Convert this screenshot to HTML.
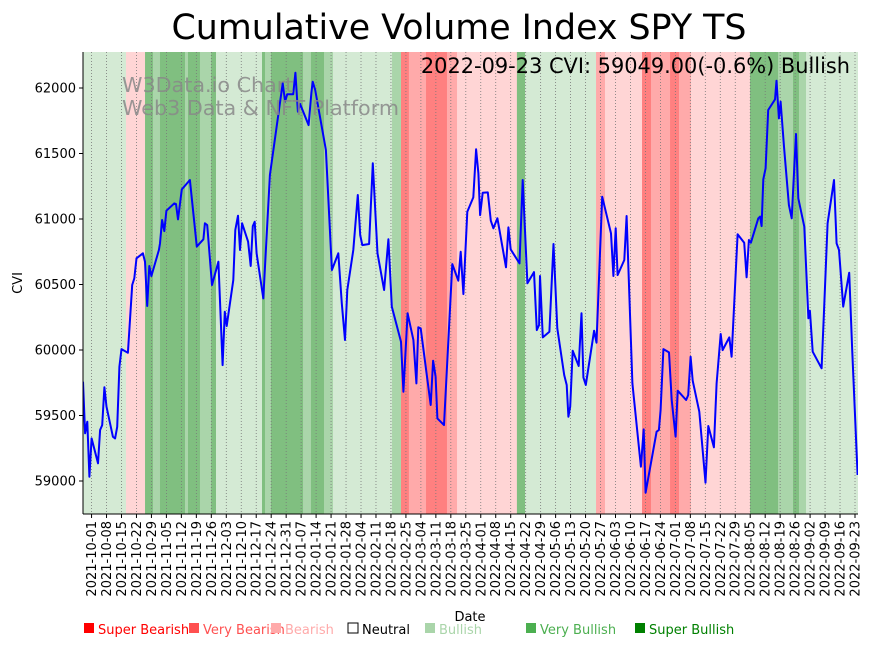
<!DOCTYPE html>
<html><head><meta charset="utf-8"><style>
body{margin:0;background:#fff;font-family:"DejaVu Sans","Liberation Sans",sans-serif;}
svg text{font-family:"DejaVu Sans","Liberation Sans",sans-serif;}
</style></head><body>
<svg id="c" width="875" height="646" xmlns="http://www.w3.org/2000/svg"></svg>
<script>
const cviDays=[0,1,2,3,4,7,8,9,10,11,14,15,16,17,18,21,23,24,25,28,29,30,31,32,35.5,36,37,38,39,42.7,43.5,44.4,46.2,50,53.2,56.3,57,58.1,60.3,63.3,65.3,66.3,67.2,70.3,71.2,72.5,73.4,74.4,77.2,78.4,79.4,80.3,81.2,84.3,87.4,93.4,94.5,95.5,98.3,99.3,100.5,101.5,105.5,106.8,107.4,108.6,113.6,116.4,119.4,121,
122.5,123.6,126.4,128.5,129.6,130.6,133.8,135.5,137.7,140.8,142.8,144.4,148.7,149.8,151.8,154.5,155.9,156.8,157.9,162.6,163.7,164.9,165.7,168.8,172.7,175.5,176.6,177.9,179.7,182.5,183.8,184.9,185.7,186.9,189.3,190.7,191.9,193.8,197.8,198.9,200,204.1,205.6,207.8,210.9,212.2,213.3,213.7,215,218.1,220,221.8,225,226.2,227,227.8,229,231.8,233.1,234,235.1,239,240.1,
242.8,246.9,248,249.1,250,253.1,254.2,256.9,260.9,262.2,263.1,268.2,269.3,270.1,271.4,274,275.3,277.1,278.1,282,283,284.1,285.1,288.2,291.1,292.4,295,296.3,298.2,299.1,302.2,303.3,306.1,309.2,310.3,311.4,312.3,315.8,316.6,317.3,318.1,319.2,320.4,323.6,324.3,325.4,326.2,327.8,330.1,331.4,333.4,334.5,337.3,339.2,339.9,341.2,345.4,346.6,348.2,351.2,352.4,353.5,355.5,358.3,359.7,362.2];
const cviValues=[59758,59364,59453,59033,59325,59135,59389,59427,59715,59567,59338,59325,59414,59872,60007,59979,60496,60547,60700,60738,60674,60336,60641,60565,60763,60814,60992,60908,61063,61119,61114,60997,61226,61298,60789,60845,60967,60954,60496,60674,59885,60292,60183,60534,60916,61025,60763,60967,60827,60641,60946,60979,60738,60394,61336,62036,61896,61952,61952,62117,61819,61878,61717,61964,62048,61985,61527,60611,60738,60356,
60076,60458,60763,61183,60878,60801,60809,61425,60738,60458,60845,60331,60063,59682,60280,60076,59745,60173,60165,59580,59918,59796,59478,59427,60656,60529,60750,60427,61056,61165,61532,61348,61030,61201,61203,60987,60929,61005,60631,60936,60768,60661,61298,60509,60595,60152,60191,60565,60096,60140,60809,60165,59809,59733,59491,59567,59995,59878,60280,59791,59733,60147,60056,
61170,60890,60565,60929,60572,60687,61023,59745,59109,59394,58911,59376,59389,59542,60007,59982,59618,59338,59689,59618,59656,59949,59766,59529,58987,59420,59257,59745,60122,59999,60096,59949,60883,60819,60555,60840,60819,61005,61018,60946,61303,61387,61832,61913,62056,61768,61896,61552,61107,61005,61649,61158,60941,60242,60300,59987,59860,60331,60967,61298,60814,60763,60331,60590,59999,59046];
const bandStart=[0,20.1,29,32.7,36,47.7,49.1,54.7,59.9,62.2,83.7,85.1,87.9,102.9,106.6,112.7,116.9,144.5,148.7,152.4,160.4,170.2,174.9,202.9,206.7,239.9,244.1,261.4,265.6,274.5,278.7,284.3,311.9,325,332,334.8,338.1];
const bandEnd=[20.1,29,32.7,36,47.7,49.1,54.7,59.9,62.2,83.7,85.1,87.9,102.9,106.6,112.7,116.9,144.5,148.7,152.4,160.4,170.2,174.9,202.9,206.7,239.9,244.1,261.4,265.6,274.5,278.7,284.3,311.9,325,332,334.8,338.1,362.5];
const bandCat=['L','P','D','M','D','M','D','M','D','L','D','M','D','M','D','M','L','M','R','MR','R','MR','P','D','L','MR','P','R','MR','R','MR','P','D','M','D','M','L'];
const yTicks=[59000,59500,60000,60500,61000,61500,62000];
const legendLabels=['Super Bearish','Very Bearish','Bearish','Neutral','Bullish','Very Bullish','Super Bullish'];
const legendX=[83,188,270,347,424,525,634];
const legendCol=['#ff0000','#ff5050','#ffaaaa','#000000','#aad5aa','#4caf50','#008000'];

const S='http://www.w3.org/2000/svg', svg=document.getElementById('c');
const L=83,R=858,T=52,B=514,D0=0,D1=362.4;
const xS=d=>L+(d-D0)/(D1-D0)*(R-L);
const yS=v=>481-(v-59000)*0.131;
function el(t,a,p){const e=document.createElementNS(S,t);for(const k in a)e.setAttribute(k,a[k]);(p||svg).appendChild(e);return e;}
const bcol={L:'#d4ead4',M:'#aad5aa',D:'#80bf80',P:'#ffd5d5',MR:'#ffaaaa',R:'#ff8080'};
const cp=el('clipPath',{id:'pc'});el('rect',{x:L,y:T,width:R-L,height:B-T},cp);
const gB=el('g',{'clip-path':'url(#pc)'});
bandStart.forEach((s,i)=>{const r=el('rect',{x:xS(s),y:T,width:xS(bandEnd[i])-xS(s)+0.3,height:B-T,fill:bcol[bandCat[i]]},gB);

});
const start=new Date(Date.UTC(2021,8,27));
for(let k=0;k<52;k++){const d=4+7*k;const x=xS(d);
const dt=new Date(start.getTime()+d*86400000);const lab=dt.toISOString().slice(0,10);
const g=el('line',{x1:x,x2:x,y1:T,y2:B,stroke:'#777','stroke-width':0.8,'stroke-dasharray':'1,2'});


el('line',{x1:x,x2:x,y1:B,y2:B+4,stroke:'#000'});
const t=el('text',{x:0,y:0,transform:`translate(${x+4.5},${B+7}) rotate(-90)`,'text-anchor':'end','font-size':13});t.textContent=lab;

}
yTicks.forEach(v=>{const y=yS(v);el('line',{x1:L-4,x2:L,y1:y,y2:y,stroke:'#000'});
const t=el('text',{x:L-7,y:y+4.5,'text-anchor':'end','font-size':13});t.textContent=v;

});
const pts=cviDays.map((d,i)=>xS(d).toFixed(1)+','+yS(cviValues[i]).toFixed(1)).join(' ');
const pl=el('polyline',{points:pts,fill:'none',stroke:'#0000ff','stroke-width':2,'stroke-linejoin':'round','clip-path':'url(#pc)'});


el('line',{x1:L,x2:L,y1:T,y2:B,stroke:'#000'});el('line',{x1:L,x2:R,y1:B,y2:B,stroke:'#000'});
function tx(s,a,n){const t=el('text',a);t.textContent=s;return t;}
tx('W3Data.io Chart',{x:122,y:92,'font-size':20.7,fill:'#888','fill-opacity':0.85},'watermark-line1');
tx('Web3 Data & NFT Platform',{x:122,y:115,'font-size':20.7,fill:'#888','fill-opacity':0.85},'watermark-line2');
tx('Cumulative Volume Index SPY TS',{x:459,y:39,'font-size':34.8,'text-anchor':'middle'},'chart-title');
tx('2022-09-23 CVI: 59049.00(-0.6%) Bullish',{x:850,y:73,'font-size':20.9,'text-anchor':'end'},'latest-value-annotation');
tx('CVI',{x:0,y:0,transform:'translate(22,283) rotate(-90)','font-size':13,'text-anchor':'middle'},'y-axis-title');
tx('Date',{x:470,y:621,'font-size':13,'text-anchor':'middle'},'x-axis-title');
legendLabels.forEach((s,i)=>{const x=legendX[i];
const r=el('rect',{x:x+1,y:623,width:10,height:10,fill:i==3?'#fff':legendCol[i],stroke:i==3?'#000':'none'});


tx(s,{x:x+15,y:634,'font-size':13,fill:legendCol[i]},'legend-entry');});
</script>
</body></html>
